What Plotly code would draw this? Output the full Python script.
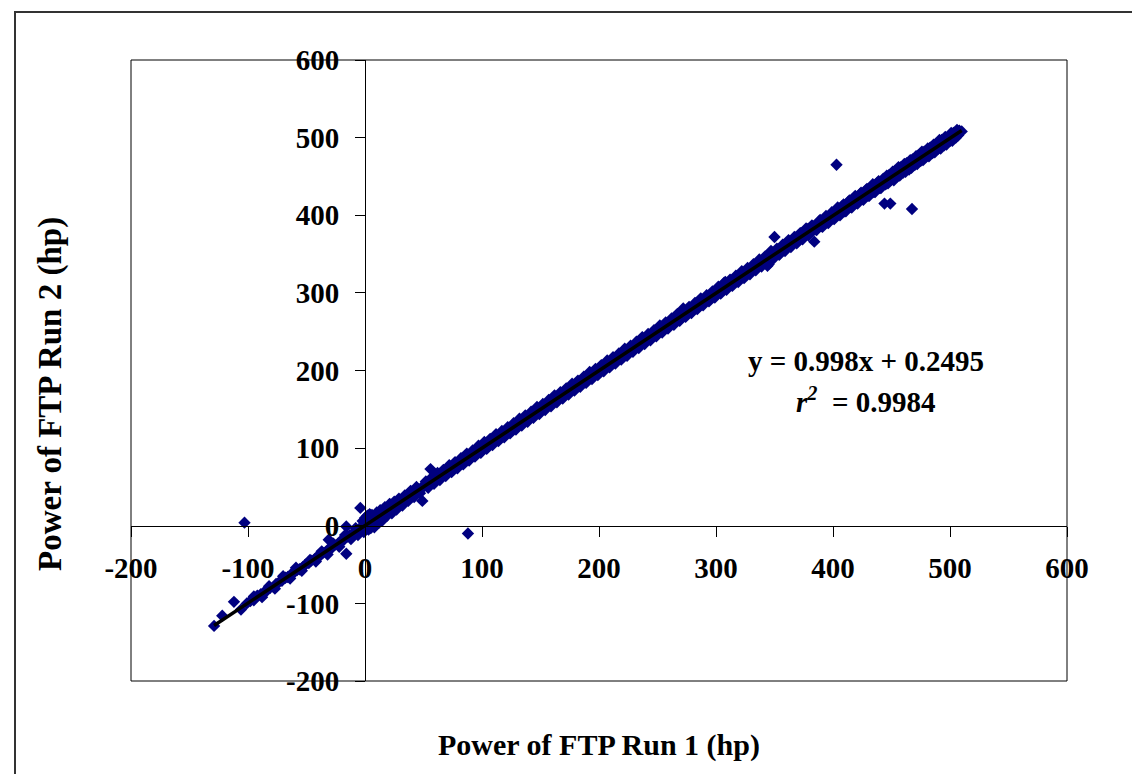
import plotly.graph_objects as go

# ---------------- data ----------------
# points lying close to the trend line
run1_core = [
    -129, -122, -112, -106, -103, -101, -98, -95, -92, -89, -86, -84, -81, -78, -76,
    -73, -71, -68, -66, -63, -61, -58, -56, -53, -51, -48, -46, -43, -41, -38,
    -36, -33, -31, -31, -28, -26, -23, -21, -18, -16, -16, -15, -13, -11, -9,
    -7, -5, -4, -3, -1, 0, 0, 1, 2, 3, 4, 5, 6, 7, 8,
    9, 10, 11, 12, 14, 15, 16, 18, 20, 22, 24, 26, 28, 30, 33,
    35, 38, 40, 43, 45, 48, 49, 50, 53, 55, 56, 58, 60, 63, 65,
    68, 70, 73, 75, 78, 80, 83, 85, 88, 88, 90, 93, 95, 98,
    100, 103, 105, 108, 110, 113, 115, 118, 120, 123, 125, 128, 130, 133, 135,
    138, 140, 143, 145, 148, 150, 153, 155, 158, 160, 163, 165, 168, 170, 173,
    175, 178, 180, 183, 185, 188, 190, 193, 195, 198, 200, 203, 205, 208, 210,
    213, 215, 218, 220, 223, 225, 228, 230, 233, 235, 238, 240, 243, 245, 248,
    250, 253, 255, 258, 260, 263, 265, 268, 270, 272, 275, 278, 280, 283, 285,
    288, 290, 293, 295, 298, 300, 303, 305, 308, 310, 313, 315, 318, 320, 323,
    325, 328, 330, 333, 335, 338, 340, 343, 345, 348, 350, 350, 353, 355, 358,
    360, 363, 365, 368, 370, 373, 375, 378, 380, 383, 384, 385, 388, 390, 393,
    395, 398, 400, 403, 403, 405, 408, 410, 413, 415, 418, 420, 423, 425, 428,
    430, 433, 435, 438, 440, 443, 444, 445, 448, 449, 450, 453, 455, 458, 460,
    463, 465, 467.5, 468, 470, 473, 475, 478, 480, 483, 485, 488, 490, 493, 495,
    498, 500, 503, 505, 508, 510,
]
run2_core = [
    -129, -116, -98, -108, 4, -100, -97, -96, -90, -88, -87, -82, -80, -79, -75,
    -72, -71, -67, -66, -62, -61, -57, -56, -53, -50, -48, -45, -43, -40, -38,
    -35, -33, -30, -18, -28, -25, -23, -20, -18, -36, -1, -14, -12, -11, -8,
    -6, -4, 23, -2, 0, 1, 10, 3, -2, 4, 8, 2, 6, 9, 5,
    12, 8, 13, 9, 15, 10, 18, 17, 20, 27, 22, 28, 26, 31, 32,
    36, 37, 41, 42, 47, 47, 32, 52, 52, 56, 73, 57, 62, 62, 66,
    67, 72, 72, 76, 77, 82, 82, 86, -10, 87, 92, 92, 96, 97,
    102, 105, 104, 110, 109, 114, 117, 117, 122, 121, 127, 129, 128, 134, 137,
    136, 141, 145, 143, 150, 149, 155, 153, 160, 162, 161, 166, 170, 168, 175,
    174, 180, 178, 184, 187, 186, 192, 191, 197, 199, 198, 205, 204, 210, 208,
    215, 216, 216, 222, 221, 227, 228, 229, 235, 233, 240, 241, 241, 248, 246,
    252, 251, 257, 256, 263, 261, 268, 265, 274, 278, 272, 280, 277, 285, 283,
    290, 288, 295, 292, 301, 298, 306, 302, 314, 308, 316, 312, 321, 317, 326,
    322, 330, 327, 334, 333, 341, 338, 346, 337, 352, 348, 372, 356, 351, 361,
    357, 366, 362, 371, 366, 377, 373, 382, 376, 386, 366, 382, 392, 386, 396,
    391, 401, 396, 465, 407, 402, 412, 405, 417, 411, 422, 416, 427, 421, 432,
    425, 437, 430, 442, 435, 447, 415, 440, 452, 415, 446, 457, 450, 462, 455,
    467, 459, 408, 472, 465, 477, 470, 482, 476, 487, 480, 492, 486, 497, 490,
    500, 496, 506, 500, 509, 508,
]
# points at the edges of the band (wider scatter)
run1_spread = [
    -95, -88, -82, -77, -70, -64, -59, -54, -47, -42, -37, -32, -27, -22, -17,
    -12, -8, -6, -2, -1, 1, 2, 3, 4, 5, 6, 8, 10, 12, 13,
    15, 17, 19, 21, 23, 25, 27, 29, 32, 34, 37, 39, 42, 44, 47,
    52, 54, 57, 59, 62, 64, 67, 69, 72, 74, 77, 79, 82, 84, 87,
    89, 92, 94, 97, 99, 102, 104, 107, 109, 112, 114, 117, 119, 122, 124,
    127, 129, 132, 134, 137, 139, 142, 144, 147, 149, 152, 154, 157, 159, 162,
    164, 167, 169, 172, 174, 177, 179, 182, 184, 187, 189, 192, 194, 197, 199,
    202, 204, 207, 209, 212, 214, 217, 219, 222, 224, 227, 229, 232, 234, 237,
    239, 242, 244, 247, 249, 252, 254, 257, 259, 262, 264, 267, 269, 272, 274,
    277, 279, 282, 284, 287, 289, 292, 294, 297, 299, 302, 304, 307, 309, 312,
    314, 317, 319, 322, 324, 327, 329, 332, 334, 337, 339, 342, 344, 347, 349,
    352, 354, 357, 359, 362, 364, 367, 369, 372, 374, 377, 379, 382, 386, 389,
    391, 394, 396, 399, 401, 404, 406, 409, 411, 414, 416, 419, 421, 424, 426,
    429, 431, 434, 436, 439, 441, 446, 447, 451, 452, 456, 457, 461, 462, 466,
    467, 471, 472, 476, 477, 481, 482, 486, 487, 491, 492, 496, 497, 501, 502,
    506, 507,
]
run2_spread = [
    -91, -92, -78, -81, -65, -68, -54, -58, -44, -46, -33, -37, -23, -27, -12,
    -17, -3, -12, 6, -8, 10, 13, -5, 15, -3, 14, -2, 17, 4, 20,
    7, 24, 13, 28, 16, 31, 21, 35, 26, 39, 32, 45, 37, 50, 42,
    57, 49, 62, 54, 68, 59, 72, 64, 78, 69, 82, 74, 87, 79, 93,
    84, 97, 89, 103, 94, 108, 99, 112, 104, 118, 109, 122, 114, 127, 119,
    132, 124, 138, 129, 142, 134, 147, 139, 153, 144, 157, 149, 162, 154, 168,
    159, 172, 164, 177, 169, 183, 174, 187, 179, 192, 184, 198, 189, 202, 194,
    207, 199, 213, 204, 217, 209, 222, 214, 228, 219, 232, 224, 237, 229, 243,
    234, 247, 239, 252, 244, 258, 249, 262, 254, 267, 259, 273, 264, 280, 269,
    282, 274, 287, 279, 293, 284, 297, 289, 302, 294, 308, 299, 313, 304, 317,
    309, 322, 314, 328, 319, 332, 324, 337, 329, 343, 334, 347, 335, 354, 344,
    357, 349, 362, 354, 368, 359, 372, 364, 377, 369, 383, 374, 387, 381, 394,
    385, 399, 390, 404, 395, 410, 400, 414, 405, 419, 410, 425, 415, 429, 420,
    434, 425, 440, 430, 444, 435, 451, 441, 456, 445, 462, 451, 466, 456, 471,
    461, 476, 466, 482, 471, 486, 476, 491, 481, 497, 486, 501, 491, 506, 496,
    510, 503,
]

fit_slope = 0.998
fit_intercept = 0.2495
fit_label = "y = 0.998x + 0.2495"
r2_label = "<i>r</i><sup><i>2</i></sup>  = 0.9984"

x_ticks = [-200, -100, 0, 100, 200, 300, 400, 500, 600]
y_ticks = [-200, -100, 0, 100, 200, 300, 400, 500, 600]
x_title = "Power of FTP Run 1 (hp)"
y_title = "Power of FTP Run 2 (hp)"

# ---------------- figure ----------------
W, H = 1140, 774
L, R, T, B = 123, 81, 52, 101
pw, ph = W - L - R, H - T - B

FONT = "Liberation Serif, Times New Roman, serif"
navy = "#000080"

run1_all = run1_core + run1_spread
run2_all = run2_core + run2_spread

fig = go.Figure()

fig.add_trace(go.Scatter(
    x=run1_all, y=run2_all, mode="markers",
    marker=dict(symbol="diamond", size=9.5, color=navy, line=dict(width=0)),
    showlegend=False, hoverinfo="x+y",
))

fit_x = [min(run1_all), max(run1_all)]
fit_y = [fit_slope * v + fit_intercept for v in fit_x]
fig.add_trace(go.Scatter(
    x=fit_x, y=fit_y, mode="lines",
    line=dict(color="black", width=3.5),
    showlegend=False, hoverinfo="skip",
))

tickfont = dict(family=FONT, size=29, color="black", weight="bold")

fig.update_layout(
    width=W, height=H,
    margin=dict(l=L, r=R, t=T, b=B, pad=0),
    paper_bgcolor="white", plot_bgcolor="white",
    xaxis=dict(
        range=[-200, 600], tickmode="array", tickvals=x_ticks,
        ticktext=[str(v) for v in x_ticks],
        showgrid=False, zeroline=False, showline=True, linecolor="black",
        linewidth=1, ticks="outside", ticklen=10, tickcolor="black",
        tickwidth=1, tickfont=tickfont, anchor="free", position=0.25,
        ticklabelstandoff=6,
    ),
    yaxis=dict(
        range=[-200, 600], tickmode="array", tickvals=y_ticks,
        ticktext=[str(v) for v in y_ticks],
        showgrid=False, zeroline=False, showline=True, linecolor="black",
        linewidth=1, ticks="outside", ticklen=10, tickcolor="black",
        tickwidth=1, tickfont=tickfont, anchor="free", position=0.25,
        ticklabelstandoff=10,
    ),
    font=dict(family=FONT, color="black"),
)

def px_to_paper_x(px):
    return (px - L) / pw

def px_to_paper_y(py):
    return (H - B - py) / ph

# plot area frame
fig.add_shape(type="rect", xref="paper", yref="paper", x0=0, y0=0, x1=1, y1=1,
              line=dict(color="black", width=1), layer="above")
# outer chart border (only left/top edges visible in picture)
fig.add_shape(type="rect", xref="paper", yref="paper",
              x0=px_to_paper_x(7), y0=px_to_paper_y(H + 20),
              x1=px_to_paper_x(W + 20), y1=px_to_paper_y(4),
              line=dict(color="#333333", width=2), layer="above")

annot_font = dict(family=FONT, size=29, color="black", weight="bold")
fig.add_annotation(x=428, y=212, xref="x", yref="y", text=fit_label,
                   showarrow=False, font=annot_font, xanchor="center", yanchor="middle")
fig.add_annotation(x=428, y=162, xref="x", yref="y", text=r2_label,
                   showarrow=False, font=annot_font, xanchor="center", yanchor="middle")

title_font = dict(family=FONT, size=30, color="black", weight="bold")
fig.add_annotation(x=0.5, y=px_to_paper_y(737), xref="paper", yref="paper",
                   text=x_title, showarrow=False, font=title_font,
                   xanchor="center", yanchor="middle")
fig.add_annotation(x=px_to_paper_x(43), y=px_to_paper_y(386), xref="paper", yref="paper",
                   text=y_title, showarrow=False,
                   font=dict(family=FONT, size=33, color="black", weight="bold"),
                   textangle=-90, xanchor="center", yanchor="middle")

fig.write_html("out.html")
